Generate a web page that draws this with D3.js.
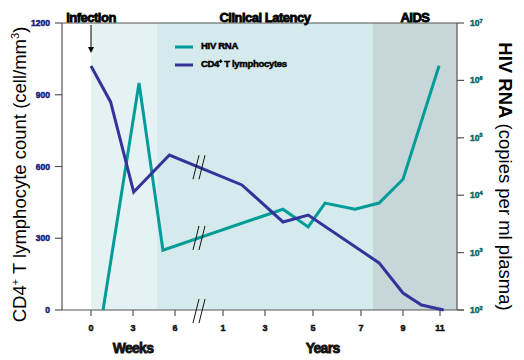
<!DOCTYPE html>
<html><head><meta charset="utf-8">
<script src="https://cdn.jsdelivr.net/npm/d3@7"></script>
<style>
body{margin:0;background:#fff}
svg{display:block}
text{font-family:"Liberation Sans",Arial,sans-serif}
</style>
</head><body>
<svg id="chart" width="524" height="360"></svg>
<script>
// ---------- data ----------
const weekTicks = [0, 3, 6];                 // weeks after infection
const yearTicks = [1, 3, 5, 7, 9, 11];       // years after infection
const cd4Ticks = [0, 300, 600, 900, 1200];
const rnaExponents = [2, 3, 4, 5, 6, 7];
const phaseNames = ["Infection", "Clinical Latency", "AIDS"];
const phaseStarts = [0, 4.7 / 52, 7.57];     // years
const seriesNames = ["HIV RNA", "CD4\u207A T lymphocytes"];

// CD4+ T lymphocytes (cells/mm3), time in years
const cd4Times  = [0, 1.4/52, 3.05/52, 5.6/52, 1.9, 3.75, 4.8, 7.86, 9, 10, 11.2];
const cd4Values = [1020, 870, 493, 648, 523, 368, 397, 197, 71, 21, 0];

// HIV RNA (copies/ml), time in years
const rnaTimes  = [0.86/52, 3.43/52, 5.14/52, 3.75, 4.8, 5.5, 6.75, 7.86, 9, 10.95];
const rnaValues = [100, 9.0e5, 1.1e3, 5.7e3, 2.8e3, 7.3e3, 5.7e3, 7.3e3, 1.9e4, 1.8e6];

// ---------- layout ----------
const W = 524, H = 360;
const plot = {left: 62, right: 457, top: 23, bottom: 310};
const tickPx = [91, 133, 175, 223, 265, 313, 361, 403, 440];
const colors = {rna: "#009c97", cd4: "#33339a", axis: "#555",
  band0: "#ffffff", band1: "#e4f2f4", band2: "#d4eaed", band3: "#c7d7d9",
  leftTick: "#1b1b78", rightTick: "#0b6b66"};

const svg = d3.select("#chart");

const tickTimes = weekTicks.map(w => w / 52).concat(yearTicks);
const x = d3.scaleLinear().domain(tickTimes).range(tickPx);
const yL = d3.scaleLinear().domain([0, 1200]).range([plot.bottom, plot.top]);
const yR = d3.scaleLog().domain([100, 1e7]).range([plot.bottom, plot.top]);

// ---------- background bands ----------
const bandEdges = [plot.left].concat(phaseStarts.map(t => x(t)), [plot.right]);
const bandColors = [colors.band0, colors.band1, colors.band2, colors.band3];
svg.append("g").selectAll("rect").data(d3.range(4)).join("rect")
  .attr("x", i => bandEdges[i]).attr("width", i => bandEdges[i+1] - bandEdges[i])
  .attr("y", plot.top).attr("height", plot.bottom - plot.top)
  .attr("fill", i => bandColors[i]);

// ---------- frame / axes ----------
const ax = svg.append("g").attr("stroke", colors.axis).attr("stroke-width", 1.2);
ax.append("line").attr("x1", plot.left).attr("x2", plot.right).attr("y1", plot.top).attr("y2", plot.top);
ax.append("line").attr("x1", plot.left).attr("x2", plot.left).attr("y1", plot.top).attr("y2", plot.bottom);
ax.append("line").attr("x1", plot.right).attr("x2", plot.right).attr("y1", plot.top).attr("y2", plot.bottom);
ax.append("line").attr("x1", plot.left).attr("x2", plot.right + 7).attr("y1", plot.bottom).attr("y2", plot.bottom);

// left ticks
ax.selectAll(".lt").data(cd4Ticks).join("line")
  .attr("x1", plot.left - 7).attr("x2", plot.left).attr("y1", d => yL(d)).attr("y2", d => yL(d));
svg.append("g").selectAll("text").data(cd4Ticks).join("text")
  .attr("x", plot.left - 12).attr("y", d => yL(d) + 3)
  .attr("text-anchor", "end").attr("font-size", 8.5).attr("font-weight", "bold")
  .attr("fill", colors.leftTick).attr("stroke", colors.leftTick).attr("stroke-width", 0.5)
  .text(d => d);

// right ticks
ax.selectAll(".rt").data(rnaExponents).join("line")
  .attr("x1", plot.right).attr("x2", plot.right + 7)
  .attr("y1", d => yR(Math.pow(10, d))).attr("y2", d => yR(Math.pow(10, d)));
const rl = svg.append("g").selectAll("text").data(rnaExponents).join("text")
  .attr("x", plot.right + 13).attr("y", d => yR(Math.pow(10, d)) + 3)
  .attr("font-size", 8.5).attr("font-weight", "bold")
  .attr("fill", colors.rightTick).attr("stroke", colors.rightTick).attr("stroke-width", 0.5);
rl.append("tspan").text("10");
rl.append("tspan").attr("dy", -3.5).attr("font-size", 5.5).text(d => d);

// bottom ticks
ax.selectAll(".bt").data(tickTimes).join("line")
  .attr("x1", d => x(d)).attr("x2", d => x(d))
  .attr("y1", plot.bottom).attr("y2", plot.bottom + 6);
const tickLabels = weekTicks.concat(yearTicks);
svg.append("g").selectAll("text").data(tickTimes).join("text")
  .attr("x", d => x(d)).attr("y", plot.bottom + 21)
  .attr("text-anchor", "middle").attr("font-size", 9).attr("font-weight", "bold")
  .attr("fill", "#111").attr("stroke", "#111").attr("stroke-width", 0.5)
  .text((d, i) => tickLabels[i]);

svg.append("text").attr("x", x(3/52)).attr("y", 352.5)
  .attr("text-anchor", "middle").attr("font-size", 14).attr("font-weight", "bold")
  .attr("letter-spacing", -0.7).attr("fill", "#111").attr("stroke", "#111").attr("stroke-width", 0.8)
  .text("Weeks");
svg.append("text").attr("x", x(5.4)).attr("y", 352.5)
  .attr("text-anchor", "middle").attr("font-size", 14).attr("font-weight", "bold")
  .attr("letter-spacing", -0.7).attr("fill", "#111").attr("stroke", "#111").attr("stroke-width", 0.8)
  .text("Years");

// phase labels
const phaseX = [x(phaseStarts[0]), (x(phaseStarts[1]) + x(phaseStarts[2])) / 2, (x(phaseStarts[2]) + plot.right) / 2];
svg.append("g").selectAll("text").data(phaseNames).join("text")
  .attr("x", (d, i) => phaseX[i]).attr("y", plot.top - 1)
  .attr("text-anchor", "middle").attr("font-size", 13).attr("font-weight", "bold")
  .attr("letter-spacing", -0.5).attr("fill", "#000").attr("stroke", "#000").attr("stroke-width", 0.8)
  .text(d => d);

// infection arrow
const ax0 = x(phaseStarts[0]);
svg.append("line").attr("x1", ax0).attr("x2", ax0).attr("y1", plot.top + 2).attr("y2", plot.top + 25)
  .attr("stroke", "#000").attr("stroke-width", 1);
svg.append("path").attr("d", `M${ax0-3},${plot.top+24}L${ax0+3},${plot.top+24}L${ax0},${plot.top+30}Z`).attr("fill", "#000");

// axis titles
svg.append("text")
  .attr("transform", `translate(26,${(plot.top + plot.bottom) / 2 + 8}) rotate(-90)`)
  .attr("text-anchor", "middle").attr("font-size", 18.5).attr("fill", "#000")
  .html('CD4<tspan dy="-7" font-size="11">+</tspan><tspan dy="7"> T lymphocyte count (cell/mm</tspan><tspan dy="-7" font-size="11">3</tspan><tspan dy="7">)</tspan>');
svg.append("text")
  .attr("transform", `translate(499,${(plot.top + plot.bottom) / 2 + 10}) rotate(90)`)
  .attr("text-anchor", "middle").attr("font-size", 18.5).attr("fill", "#000")
  .html('<tspan font-weight="bold">HIV RNA</tspan> (copies per ml plasma)');

// ---------- lines ----------
svg.append("clipPath").attr("id", "clip").append("rect")
  .attr("x", plot.left).attr("y", plot.top).attr("width", plot.right - plot.left).attr("height", plot.bottom - plot.top + 2);

const rnaPts = rnaTimes.map((t, i) => [x(t), yR(rnaValues[i])]);
const cd4Pts = cd4Times.map((t, i) => [x(t), yL(cd4Values[i])]);
const lineGen = d3.line();
svg.append("path").attr("d", lineGen(rnaPts)).attr("fill", "none")
  .attr("stroke", colors.rna).attr("stroke-width", 3).attr("stroke-linejoin", "miter")
  .attr("clip-path", "url(#clip)");
svg.append("path").attr("d", lineGen(cd4Pts)).attr("fill", "none")
  .attr("stroke", colors.cd4).attr("stroke-width", 3).attr("stroke-linejoin", "miter")
  .attr("clip-path", "url(#clip)");

// ---------- break marks ----------
const xBreak = (x(6/52) + x(1)) / 2;
function yAt(pts, xv) {
  for (let i = 0; i < pts.length - 1; i++) {
    const [x1, y1] = pts[i], [x2, y2] = pts[i+1];
    if (xv >= x1 && xv <= x2) return y1 + (y2 - y1) * (xv - x1) / (x2 - x1);
  }
  return null;
}
const breakYs = [plot.bottom + 1, yAt(rnaPts, xBreak), yAt(cd4Pts, xBreak)];
const bg = svg.append("g").attr("stroke", "#111").attr("stroke-width", 1);
breakYs.forEach(cy => {
  [-3, 3].forEach(off => {
    bg.append("line")
      .attr("x1", xBreak + off - 3).attr("y1", cy + 12)
      .attr("x2", xBreak + off + 3).attr("y2", cy - 12);
  });
});

// ---------- legend ----------
const legColors = [colors.rna, colors.cd4];
const lg = svg.append("g");
seriesNames.forEach((name, i) => {
  const ly = 47 + i * 18;
  lg.append("line").attr("x1", 175).attr("x2", 193).attr("y1", ly).attr("y2", ly)
    .attr("stroke", legColors[i]).attr("stroke-width", 3);
  lg.append("text").attr("x", 201).attr("y", ly + 2)
    .attr("font-size", 9.5).attr("font-weight", "bold").attr("letter-spacing", -0.3)
    .attr("fill", "#000").attr("stroke", "#000").attr("stroke-width", 0.5)
    .text(name);
});
</script>
</body></html>
